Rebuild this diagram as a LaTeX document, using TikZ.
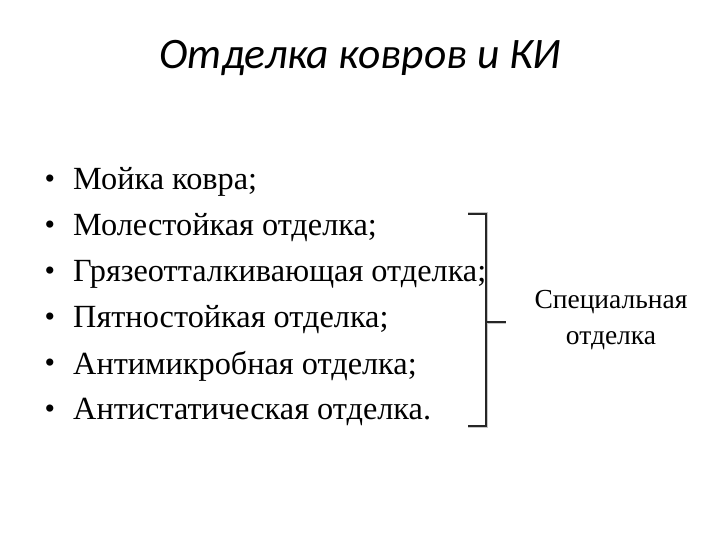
\documentclass[tikz,border=0pt]{standalone}
\usepackage{fontspec}
\setmainfont{Liberation Serif}
\newfontfamily\titlefont{Carlito}
\begin{document}
\begin{tikzpicture}[x=1pt,y=-1pt,
  item/.style={anchor=west,inner sep=0pt,font=\fontsize{32.3}{34}\selectfont},
  bul/.style={inner sep=0pt,font=\fontsize{30}{34}\selectfont}]
\useasboundingbox (0,0) rectangle (720,540);
\node (t) at (360,58) {\titlefont\itshape\fontsize{43.5}{46}\selectfont Отделка ковров и КИ};
\foreach \y/\s [count=\i] in {182/Мойка ковра;,228/Молестойкая отделка;,274/Грязеотталкивающая отделка;,320/Пятностойкая отделка;,366/Антимикробная отделка;,412/Антистатическая отделка.}{
  \node[bul] (b\i) at (50,\y) {\textbullet};
  \node[item] (i\i) at (73,\y) {\s};
}
\coordinate (a1) at (468,214); \coordinate (a2) at (486,214); \coordinate (a3) at (486,322);
\coordinate (a4) at (506,322); \coordinate (a5) at (486,426); \coordinate (a6) at (468,426);
\draw[line width=3pt,gray!45,shift={(2,2)}] (a1) -- (a2) -- (a5) -- (a6) (a3) -- (a4);
\draw[line width=2.5pt,black!85] (a1) -- (a2) -- (a5) -- (a6) (a3) -- (a4);
\node[align=center,font=\fontsize{27.5}{36}\selectfont] (s) at (611,320) {Специальная\\отделка};
\end{tikzpicture}
\end{document}
